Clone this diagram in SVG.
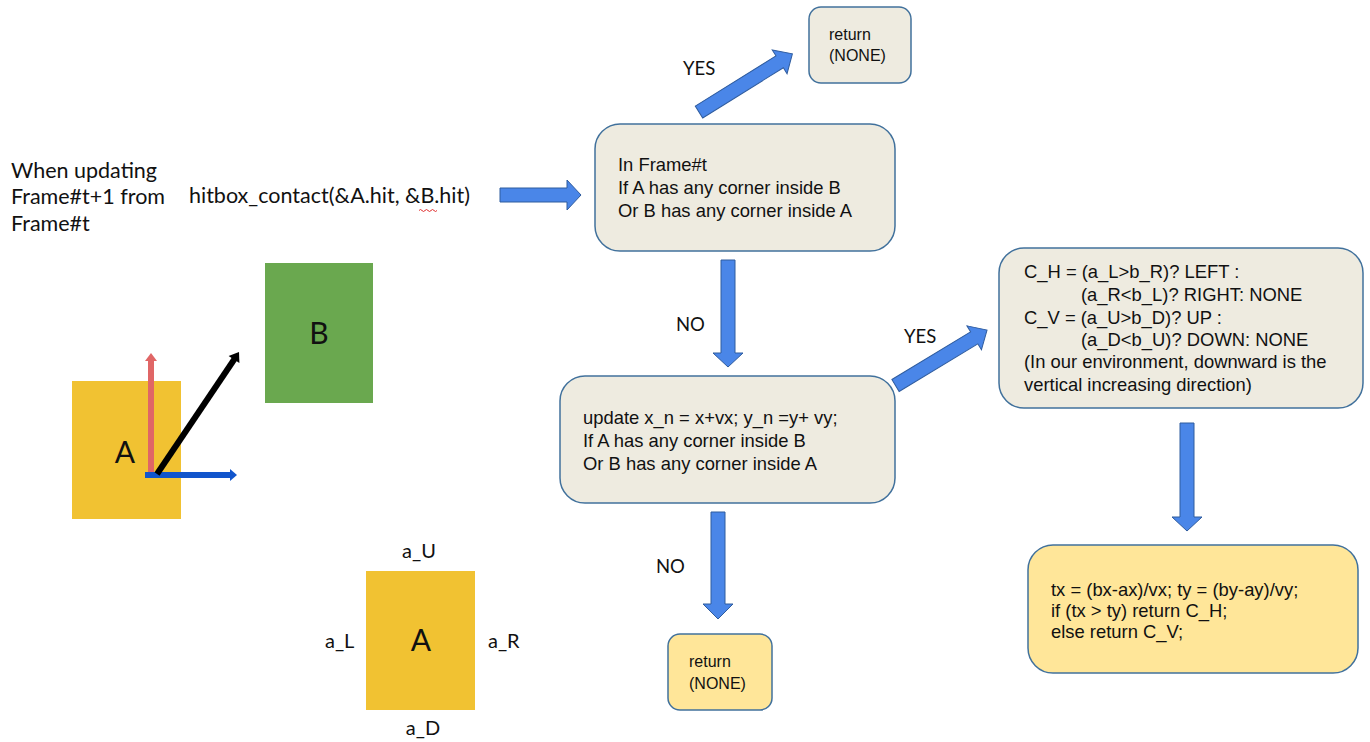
<svg xmlns="http://www.w3.org/2000/svg" width="1370" height="742" viewBox="0 0 1370 742">
<defs>
<style>
.box{fill:#EEEBE0;stroke:#41719C;stroke-width:1.5}
.ybox{fill:#FFE699;stroke:#41719C;stroke-width:1.5}
.bt{font-family:"Liberation Sans",Arial,sans-serif;font-size:18.4px;fill:#111}
.rt{font-family:"Liberation Sans",Arial,sans-serif;font-size:16px;fill:#111}
.lbl{font-family:Lato,"Open Sans",sans-serif;font-size:18.5px;fill:#111}
.sl{font-family:Lato,"Open Sans",sans-serif;font-size:20px;fill:#111}
.lbl2{font-family:Lato,"Open Sans",sans-serif;font-size:21.5px;fill:#111}
.big{font-family:Lato,"Open Sans",sans-serif;font-size:30px;fill:#111;text-anchor:middle}
.barrow{fill:#4A86E8;stroke:#2F5C9E;stroke-width:1}
</style>
</defs>
<rect width="1370" height="742" fill="#ffffff"/>

<g id="intro">
<text class="lbl2" x="11" y="178">When updating</text>
<text class="lbl2" x="11" y="204">Frame#t+1 from</text>
<text class="lbl2" x="11" y="231">Frame#t</text>
<text class="lbl2" x="189" y="203">hitbox_contact(&amp;A.hit, &amp;B.hit)</text>
<path d="M419,210.5 q1.5,-2 3,0 t3,0 t3,0 t3,0 t3,0 t3,0" fill="none" stroke="#E03030" stroke-width="1"/>
</g>

<g id="diagramAB">
<rect x="72" y="381" width="109" height="138" fill="#F1C232"/>
<rect x="265" y="263" width="108" height="140" fill="#6AA84F"/>
<text class="big" x="125" y="463">A</text>
<text class="big" x="319" y="344">B</text>
<line x1="151" y1="477" x2="151" y2="360" stroke="#E06666" stroke-width="6"/>
<polygon points="145,361 157,361 151,353" fill="#E06666"/>
<line x1="145" y1="475" x2="231" y2="475" stroke="#1155CC" stroke-width="6"/>
<polygon points="230,469 230,481 237,475" fill="#1155CC"/>
<line x1="157" y1="474" x2="234.5" y2="359" stroke="#000" stroke-width="6"/>
<polygon points="228.6,355.9 239.4,363.1 239,352" fill="#000"/>
</g>

<g id="diagramA2">
<rect x="366" y="571" width="109" height="139" fill="#F1C232"/>
<text class="big" x="421" y="651">A</text>
<text class="sl" x="419" y="558" text-anchor="middle">a_U</text>
<text class="sl" x="325" y="648">a_L</text>
<text class="sl" x="488" y="648">a_R</text>
<text class="sl" x="423" y="735" text-anchor="middle">a_D</text>
</g>

<g id="connectors">
<path class="barrow" transform="translate(500,195)" d="M0,-7 H67 V-15 L81,0 L67,15 V7 H0 Z"/>
<path class="barrow" transform="translate(699,112) rotate(-31.9)" d="M0,-7 H95 V-14 L110,0 L95,14 V7 H0 Z"/>
<path class="barrow" transform="translate(728,260) rotate(90)" d="M0,-7 H93 V-15 L107,0 L93,15 V7 H0 Z"/>
<path class="barrow" transform="translate(895.5,385.5) rotate(-31.2)" d="M0,-7 H92 V-14 L107,0 L92,14 V7 H0 Z"/>
<path class="barrow" transform="translate(718,512) rotate(90)" d="M0,-7 H92 V-15 L107,0 L92,15 V7 H0 Z"/>
<path class="barrow" transform="translate(1187,423) rotate(90)" d="M0,-7 H94 V-15 L108,0 L94,15 V7 H0 Z"/>
<text class="lbl" x="683" y="75">YES</text>
<text class="lbl" x="676" y="331">NO</text>
<text class="lbl" x="904" y="343">YES</text>
<text class="lbl" x="656" y="573">NO</text>
</g>

<g id="node-return-top">
<rect class="box" x="809" y="7" width="102" height="76" rx="12"/>
<text class="rt" x="829" y="40">return</text>
<text class="rt" x="829" y="61">(NONE)</text>
</g>

<g id="node-frame-t">
<rect class="box" x="595" y="124" width="300" height="127" rx="25"/>
<text class="bt" x="618" y="171">In Frame#t</text>
<text class="bt" x="618" y="194">If A has any corner inside B</text>
<text class="bt" x="618" y="217">Or B has any corner inside A</text>
</g>

<g id="node-update">
<rect class="box" x="560" y="376" width="335" height="127" rx="25"/>
<text class="bt" x="583" y="424">update x_n = x+vx; y_n =y+ vy;</text>
<text class="bt" x="583" y="447">If A has any corner inside B</text>
<text class="bt" x="583" y="470">Or B has any corner inside A</text>
</g>

<g id="node-direction">
<rect class="box" x="999" y="248" width="364" height="160" rx="25"/>
<text class="bt" x="1024" y="278">C_H = (a_L&gt;b_R)? LEFT :</text>
<text class="bt" x="1081" y="301">(a_R&lt;b_L)? RIGHT: NONE</text>
<text class="bt" x="1024" y="324">C_V = (a_U&gt;b_D)? UP :</text>
<text class="bt" x="1081" y="346">(a_D&lt;b_U)? DOWN: NONE</text>
<text class="bt" x="1024" y="368">(In our environment, downward is the</text>
<text class="bt" x="1024" y="391">vertical increasing direction)</text>
</g>

<g id="node-time">
<rect class="ybox" x="1028" y="545" width="330" height="128" rx="25"/>
<text class="bt" x="1051" y="596">tx = (bx-ax)/vx; ty = (by-ay)/vy;</text>
<text class="bt" x="1051" y="617">if (tx &gt; ty) return C_H;</text>
<text class="bt" x="1051" y="638">else return C_V;</text>
</g>

<g id="node-return-bottom">
<rect class="ybox" x="668" y="634" width="104" height="76" rx="12"/>
<text class="rt" x="689" y="667">return</text>
<text class="rt" x="689" y="689">(NONE)</text>
</g>
</svg>
